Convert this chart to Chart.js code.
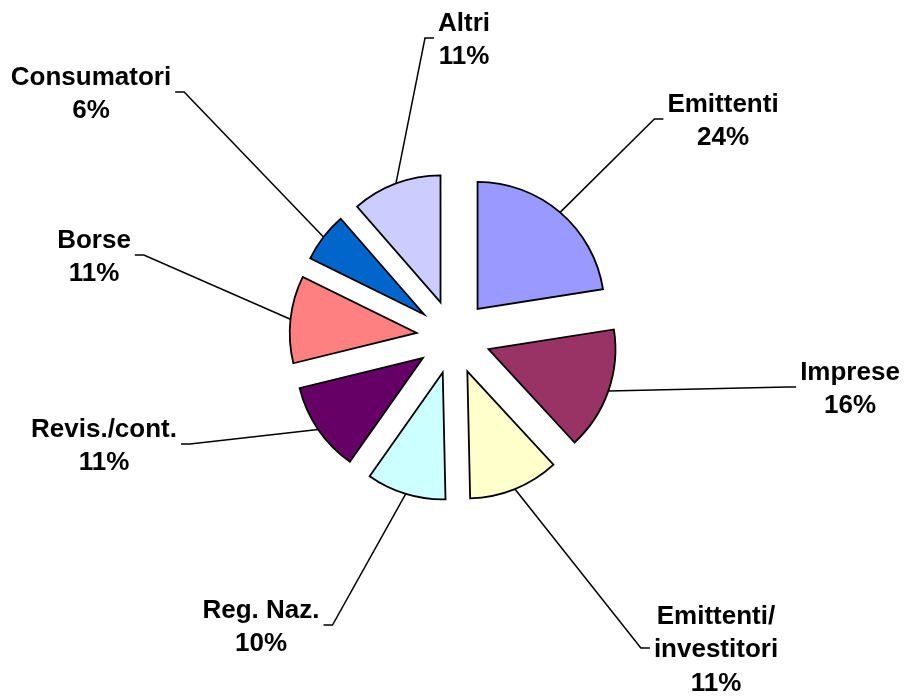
<!DOCTYPE html>
<html>
<head>
<meta charset="utf-8">
<script src="https://cdn.jsdelivr.net/npm/chart.js@4.4.0/dist/chart.umd.min.js"></script>
<style>
  html, body { margin: 0; padding: 0; background: #fff; }
  #contenitore { width: 905px; height: 697px; position: relative; }
</style>
</head>
<body>
<div id="contenitore"><canvas id="graficoTorta"></canvas></div>
<script>
// Dati del grafico (ampiezza delle fette, etichette come stampate)
const categorie = ['Emittenti', 'Imprese', 'Emittenti/investitori', 'Reg. Naz.', 'Revis./cont.', 'Borse', 'Consumatori', 'Altri'];
const valori = [22.5, 15.6, 11.5, 10.1, 11.4, 11.1, 6.3, 11.4];
const etichettePct = ['24%', '16%', '11%', '10%', '11%', '11%', '6%', '11%'];
const colori = ['#9999FF', '#993366', '#FFFFCC', '#CCFFFF', '#660066', '#FF8080', '#0066CC', '#CCCCFF'];

// Posizione delle etichette (centro del blocco di testo), stile
const posEtichette = [[723, 119], [850, 387], [716, 648], [261, 625], [104, 444], [94, 255], [91, 92], [464, 38]];
const esplosione = 37;           // distanza delle fette dal centro
const interlinea = 33.3;

function spezza(nome) {
    // "Emittenti/investitori" va a capo dopo la barra
    if (nome.length > 14 && nome.includes('/')) {
        const i = nome.indexOf('/') + 1;
        return [nome.slice(0, i), nome.slice(i)];
    }
    return [nome];
}

const pluginEsploso = {
    id: 'esploso',
    afterDatasetsUpdate(chart) {
        const area = chart.chartArea;
        const cx = (area.left + area.right) / 2;
        const cy = (area.top + area.bottom) / 2;
        chart.getDatasetMeta(0).data.forEach(arc => {
            const medio = (arc.startAngle + arc.endAngle) / 2;
            arc.x = cx + esplosione * Math.cos(medio);
            arc.y = cy + esplosione * Math.sin(medio);
        });
    },
    afterDatasetsDraw(chart) {
        const ctx = chart.ctx;
        const meta = chart.getDatasetMeta(0);
        ctx.save();
        ctx.font = 'bold 26px "Liberation Sans", Arial, sans-serif';
        meta.data.forEach((arc, i) => {
            const righe = spezza(categorie[i]).concat([etichettePct[i]]);
            const [lx, ly] = posEtichette[i];
            const larghezza = Math.max(...righe.map(r => ctx.measureText(r).width));

            // testo
            ctx.fillStyle = '#000';
            ctx.textAlign = 'center';
            ctx.textBaseline = 'alphabetic';
            const primaBase = ly - (righe.length - 1) * interlinea / 2 + 9.3;
            righe.forEach((r, k) => ctx.fillText(r, lx, primaBase + k * interlinea));

            // linea di richiamo dal bordo dell'etichetta al centro dell'arco
            const medio = (arc.startAngle + arc.endAngle) / 2;
            const px = arc.x + arc.outerRadius * Math.cos(medio);
            const py = arc.y + arc.outerRadius * Math.sin(medio);
            const aSinistra = lx > px;
            const bordo = aSinistra ? lx - larghezza / 2 - 4 : lx + larghezza / 2 + 4;
            const gomito = aSinistra ? bordo - 9 : bordo + 9;
            ctx.beginPath();
            ctx.moveTo(bordo, ly);
            ctx.lineTo(gomito, ly);
            ctx.lineTo(px, py);
            ctx.lineWidth = 1.5;
            ctx.strokeStyle = '#000';
            ctx.stroke();
        });
        ctx.restore();
    }
};

const ctxTorta = document.getElementById('graficoTorta').getContext('2d');
new Chart(ctxTorta, {
    type: 'pie',
    data: {
        labels: categorie,
        datasets: [{
            data: valori,
            backgroundColor: colori,
            borderColor: '#000',
            borderWidth: 1.8,
            borderJoinStyle: 'miter',
            radius: 127
        }]
    },
    options: {
        responsive: true,
        maintainAspectRatio: false,
        animation: false,
        layout: { padding: { left: 2, right: 0, top: 0, bottom: 23 } },
        plugins: {
            legend: { display: false },
            tooltip: { enabled: false }
        }
    },
    plugins: [pluginEsploso]
});
</script>
</body>
</html>
